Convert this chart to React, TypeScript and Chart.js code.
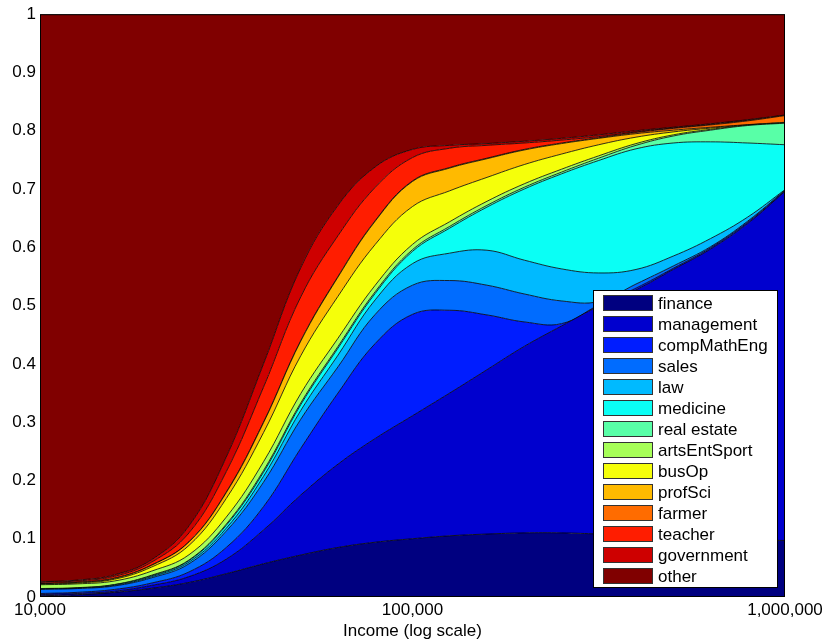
import { useEffect, useRef } from 'react';
import { Chart, registerables } from 'chart.js';

Chart.register(...registerables);

const FONT = '"Liberation Sans", Arial, Helvetica, sans-serif';

// Income sample points (log-spaced, 10^4 .. 10^6)
const incomeSamples = [10000, 12589, 15849, 19953, 25119, 31623, 39811, 50119, 63096, 79433, 100000, 125893, 158489, 199526, 251189, 316228, 398107, 501187, 630957, 794328, 1000000];
const xTickValues = [10000, 100000, 1000000];

const categories = ['finance', 'management', 'compMathEng', 'sales', 'law', 'medicine', 'real estate', 'artsEntSport', 'busOp', 'profSci', 'farmer', 'teacher', 'government', 'other'];

const finance = [0.002, 0.004, 0.008, 0.015, 0.025, 0.04, 0.057, 0.072, 0.085, 0.094, 0.1, 0.105, 0.108, 0.11, 0.11, 0.108, 0.105, 0.102, 0.1, 0.098, 0.097];
const management = [0.002, 0.002, 0.002, 0.005, 0.01, 0.025, 0.058, 0.103, 0.143, 0.178, 0.211, 0.245, 0.282, 0.32, 0.355, 0.391, 0.422, 0.46, 0.497, 0.543, 0.599];
const compMathEng = [0.002, 0.002, 0.003, 0.004, 0.008, 0.02, 0.04, 0.08, 0.122, 0.163, 0.174, 0.142, 0.094, 0.042, 0.004, 0.002, 0.003, 0.002, 0.002, 0.002, 0.001];
const sales = [0.007, 0.0065, 0.006, 0.009, 0.014, 0.028, 0.042, 0.05, 0.045, 0.05, 0.05, 0.051, 0.051, 0.048, 0.039, 0.006, 0.007, 0.004, 0.002, 0.002, 0.001];
const law = [0.0005, 0.0005, 0.001, 0.002, 0.003, 0.005, 0.01, 0.015, 0.02, 0.025, 0.037, 0.047, 0.06, 0.058, 0.055, 0.049, 0.025, 0.017, 0.014, 0.007, 0.001];
const medicine = [0.0005, 0.0005, 0.001, 0.0015, 0.0025, 0.005, 0.007, 0.01, 0.012, 0.011, 0.021, 0.043, 0.074, 0.122, 0.163, 0.193, 0.207, 0.194, 0.166, 0.127, 0.077];
const realEstate = [0.0005, 0.0005, 0.0005, 0.001, 0.001, 0.002, 0.003, 0.003, 0.003, 0.003, 0.003, 0.003, 0.003, 0.003, 0.003, 0.004, 0.006, 0.012, 0.02, 0.03, 0.037];
const artsEntSport = [0.0065, 0.0065, 0.006, 0.007, 0.009, 0.012, 0.015, 0.016, 0.014, 0.011, 0.009, 0.008, 0.007, 0.006, 0.005, 0.004, 0.003, 0.002, 0.0015, 0.0005, 0.0005];
const busOp = [0.001, 0.0015, 0.003, 0.007, 0.016, 0.032, 0.05, 0.065, 0.072, 0.07, 0.065, 0.053, 0.041, 0.033, 0.026, 0.019, 0.011, 0.005, 0.002, 0.0005, 0.0005];
const profSci = [0.0005, 0.001, 0.0015, 0.003, 0.006, 0.01, 0.017, 0.025, 0.033, 0.04, 0.043, 0.039, 0.032, 0.025, 0.018, 0.011, 0.006, 0.003, 0.0015, 0.0005, 0.0005];
const farmer = [0.0005, 0.0005, 0.0005, 0.0005, 0.0005, 0.001, 0.001, 0.001, 0.001, 0.001, 0.001, 0.001, 0.001, 0.001, 0.001, 0.001, 0.002, 0.003, 0.004, 0.0065, 0.0115];
const teacher = [0.002, 0.002, 0.003, 0.005, 0.015, 0.035, 0.06, 0.075, 0.07, 0.057, 0.04, 0.033, 0.022, 0.011, 0.005, 0.002, 0.001, 0.001, 0.001, 0.001, 0.0005];
const government = [0.001, 0.0015, 0.0025, 0.004, 0.012, 0.025, 0.04, 0.05, 0.052, 0.035, 0.014, 0.005, 0.003, 0.003, 0.003, 0.003, 0.002, 0.001, 0.001, 0.001, 0.0005];
const other = [0.974, 0.971, 0.962, 0.936, 0.878, 0.76, 0.6, 0.435, 0.328, 0.262, 0.232, 0.225, 0.222, 0.218, 0.213, 0.207, 0.2, 0.194, 0.188, 0.181, 0.173];

const colors = ['#000080', '#0000CE', '#001DFF', '#006CFF', '#00BAFF', '#0AFFF5', '#58FFA7', '#A7FF58', '#F5FF0A', '#FFBA00', '#FF6C00', '#FF1D00', '#CE0000', '#800000'];

export default function App() {
  const ref = useRef<HTMLCanvasElement>(null);

  useEffect(() => {
    if (!ref.current) return;
    const seriesValues = [finance, management, compMathEng, sales, law, medicine, realEstate, artsEntSport, busOp, profSci, farmer, teacher, government, other];
    const datasets = categories.map((name, i) => ({
      label: name,
      data: incomeSamples.map((x, j) => ({ x, y: seriesValues[i][j] })),
      backgroundColor: colors[i],
      borderColor: '#000000',
      borderWidth: 0.8,
      pointRadius: 0,
      pointHoverRadius: 0,
      fill: i === 0 ? 'origin' : '-1',
      tension: 0.4,
    }));

    const framePlugin = {
      id: 'frameAndLegend',
      afterDraw(chart: any) {
        const ctx = chart.ctx;
        const ca = chart.chartArea;
        ctx.save();
        // axes frame
        ctx.strokeStyle = '#000';
        ctx.lineWidth = 1;
        ctx.strokeRect(ca.left + 0.5, ca.top + 0.5, ca.right - ca.left - 1, ca.bottom - ca.top - 1);
        // legend box
        const boxW = 184;
        const boxH = 297;
        const bx = ca.right - 8 - boxW;
        const by = ca.bottom - 10 - boxH;
        ctx.fillStyle = '#ffffff';
        ctx.fillRect(bx, by, boxW, boxH);
        ctx.strokeStyle = '#000';
        ctx.strokeRect(bx + 0.5, by + 0.5, boxW, boxH);
        ctx.font = `17px ${FONT}`;
        ctx.textBaseline = 'middle';
        ctx.textAlign = 'left';
        categories.forEach((name, i) => {
          const cy = by + 13 + i * 21;
          ctx.fillStyle = colors[i];
          ctx.fillRect(bx + 10, cy - 7.5, 49, 15);
          ctx.strokeStyle = '#333';
          ctx.lineWidth = 1;
          ctx.strokeRect(bx + 10.5, cy - 7.5, 49, 15);
          ctx.fillStyle = '#000';
          ctx.fillText(name, bx + 65, cy + 1);
        });
        ctx.restore();
      },
    };

    const chart = new Chart(ref.current, {
      type: 'line',
      data: { datasets } as any,
      options: {
        animation: false,
        responsive: false,
        layout: { padding: { left: 0, right: 41, top: 12, bottom: 0 } },
        plugins: { legend: { display: false }, tooltip: { enabled: false } },
        scales: {
          x: {
            type: 'logarithmic',
            min: 10000,
            max: 1000000,
            grid: { display: false, drawTicks: false },
            border: { display: false },
            afterBuildTicks: (s: any) => {
              s.ticks = xTickValues.map((v) => ({ value: v }));
            },
            afterFit: (s: any) => {
              s.height = 46;
            },
            ticks: {
              autoSkip: false,
              maxRotation: 0,
              padding: 3,
              color: '#000',
              font: { family: FONT, size: 17 },
              callback: (v: any) => Number(v).toLocaleString('en-US'),
            },
            title: {
              display: true,
              text: 'Income (log scale)',
              color: '#000',
              font: { family: FONT, size: 17 },
              padding: { top: 0, bottom: 1 },
            },
          },
          y: {
            stacked: true,
            min: 0,
            max: 1,
            grid: { display: false, drawTicks: false },
            border: { display: false },
            afterFit: (s: any) => {
              s.width = 40;
            },
            ticks: {
              stepSize: 0.1,
              padding: 4,
              color: '#000',
              font: { family: FONT, size: 17 },
              callback: (v: any) => String(Math.round(Number(v) * 10) / 10),
            },
          },
        },
      } as any,
      plugins: [framePlugin],
    });
    return () => chart.destroy();
  }, []);

  return (
    <div style={{ position: 'fixed', left: 0, top: 0, width: 826, height: 643, background: '#ffffff' }}>
      <canvas ref={ref} width={826} height={643} style={{ display: 'block' }} />
    </div>
  );
}
